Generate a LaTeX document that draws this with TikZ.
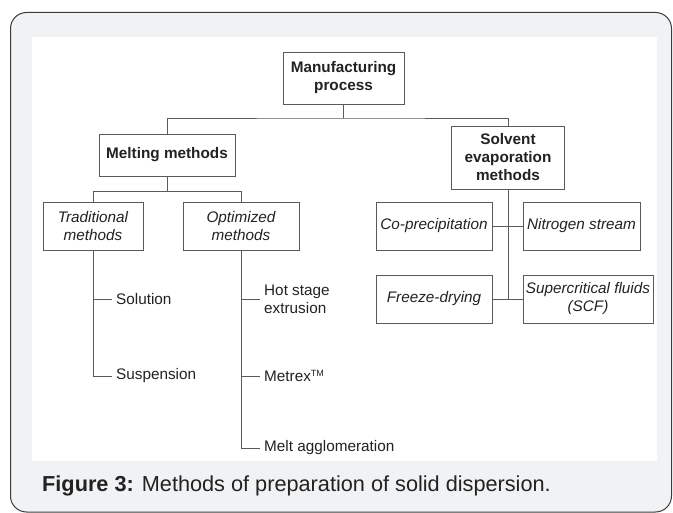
\documentclass[tikz,border=0pt]{standalone}
\usepackage{fontspec}
\setmainfont{Liberation Sans}
\usetikzlibrary{positioning}
\definecolor{panelgray}{HTML}{F1F2F4}
\definecolor{framegray}{HTML}{3A3A3A}
\definecolor{linegray}{HTML}{5A5A5A}
\definecolor{inkgray}{HTML}{222222}
\begin{document}
\begin{tikzpicture}[x=1pt, y=-1pt,
    box/.style={draw=linegray, line width=0.9pt, text=inkgray, align=center,
      inner sep=2pt, font=\fontsize{15.3}{18}\selectfont},
    headbox/.style={box, font=\fontsize{15.3}{18}\selectfont\bfseries},
    subbox/.style={box, font=\fontsize{15.3}{18}\selectfont\itshape},
    leaf/.style={anchor=west, inner xsep=4pt, inner ysep=1pt, align=left,
      text=inkgray, font=\fontsize{15.3}{18}\selectfont},
    branch/.style={draw=linegray, line width=0.9pt}]
        \useasboundingbox (0,0) rectangle (673,513);
        \clip (0,0) rectangle (673,513);

        % Panel and white area
        \filldraw[fill=panelgray, draw=framegray, line width=1pt, rounded corners=16pt]
          (10.5,12.5) rectangle (671.5,512);
        \fill[white] (32,37) rectangle (657,461);

        % Boxes
        \node[headbox, minimum width=121pt, minimum height=52pt] (mfg) at (343.5,78)
          {Manufacturing\\process};
        \node[headbox, minimum width=136pt, minimum height=42pt] (melt) at (167,155)
          {Melting methods};
        \node[headbox, minimum width=113pt, minimum height=63pt] (solv) at (508,157.5)
          {Solvent\\evaporation\\methods};
        \node[subbox, minimum width=100pt, minimum height=48pt] (trad) at (93,226)
          {Traditional\\methods};
        \node[subbox, minimum width=116pt, minimum height=48pt] (optim) at (241,226)
          {Optimized\\methods};
        \node[subbox, minimum width=116pt, minimum height=48pt] (copr) at (434,226)
          {Co-precipitation};
        \node[subbox, minimum width=117pt, minimum height=48pt] (nitro) at (581.5,226)
          {Nitrogen stream};
        \node[subbox, minimum width=116pt, minimum height=48pt] (freeze) at (434,299)
          {Freeze-drying};
        \node[subbox, minimum width=130pt, minimum height=48pt] (scf) at (588,299)
          {Supercritical fluids\\(SCF)};

        % Leaves
        \node[leaf] (sol) at (112,299) {Solution};
        \node[leaf] (susp) at (112,376) {Suspension};
        \node[leaf] (hse) at (260,299) {Hot stage\\extrusion};
        \node[leaf] (metrex) at (260,376) {Metrex\textsuperscript{\fontsize{9}{9}\selectfont TM}};
        \node[leaf] (agglo) at (260,448) {Melt agglomeration};

        % Tree lines
        \coordinate (j1) at (343.5,118);
        \coordinate (j2) at (167,191.5);
        \coordinate (j3) at (508,299);
        \draw[branch] (mfg.south) -- (j1);
        \draw[branch] (melt.north) |- (j1) -| (solv.north);
        \draw[branch] (melt.south) -- (j2);
        \draw[branch] (trad.north) |- (j2) -| (optim.north);
        \draw[branch] (trad.south) |- (sol.west);
        \draw[branch] (trad.south) |- (susp.west);
        \draw[branch] (optim.south) |- (hse.west);
        \draw[branch] (optim.south) |- (metrex.west);
        \draw[branch] (optim.south) |- (agglo.west);
        \draw[branch] (solv.south) -- (j3);
        \draw[branch] (copr.east) -- (nitro.west);
        \draw[branch] (freeze.east) -- (scf.west);

        % Caption
        \node[anchor=west, inner sep=0pt, text=inkgray, font=\fontsize{21.7}{24}\selectfont]
          (caption) at (42,486) {\textbf{Figure 3:} Methods of preparation of solid dispersion.};
\end{tikzpicture}
\end{document}
